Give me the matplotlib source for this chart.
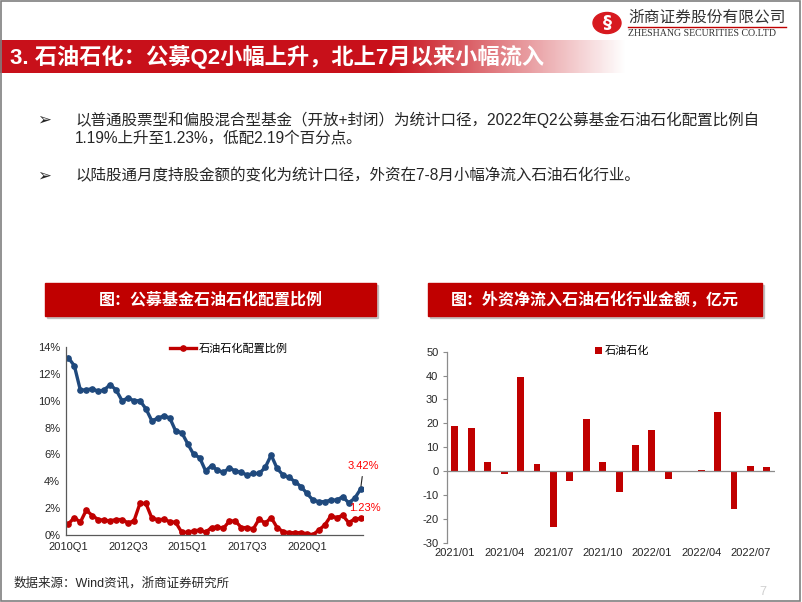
import matplotlib
matplotlib.use("Agg")
import matplotlib.pyplot as plt
import matplotlib.colors as mcolors
from matplotlib.patches import Rectangle, Circle
import numpy as np

plt.rcParams['font.family'] = ['Liberation Sans', 'Noto Sans CJK SC', 'DejaVu Sans']
plt.rcParams['axes.unicode_minus'] = False

W, H = 802, 602

# left chart: fund allocation to petrochem (red) vs benchmark (blue), % , 2010Q1..2022Q2
quarters = [f"{y}Q{q}" for y in range(2010, 2023) for q in range(1, 5)][:50]
left_ticks = ['2010Q1', '2012Q3', '2015Q1', '2017Q3', '2020Q1']
alloc = [0.82, 1.3, 0.95, 1.85, 1.45, 1.15, 1.1, 1.05, 1.15, 1.15,
         0.9, 1.05, 2.35, 2.35, 1.25, 1.15, 1.16, 1.0, 0.94, 0.2,
         0.2, 0.3, 0.37, 0.2, 0.55, 0.6, 0.5, 1.04, 1.04, 0.55,
         0.55, 0.45, 1.2, 0.87, 1.3, 0.55, 0.25, 0.17, 0.17, 0.17,
         0.1, 0.02, 0.37, 0.75, 1.41, 1.3, 1.46, 0.92, 1.19, 1.23]
bench = [13.2, 12.6, 10.8, 10.8, 10.9, 10.7, 10.8, 11.2, 10.8, 10.0,
         10.2, 10.0, 10.0, 9.4, 8.5, 8.7, 8.87, 8.72, 7.73, 7.63,
         6.8, 6.0, 5.77, 4.78, 5.15, 4.83, 4.66, 5.0, 4.76, 4.66,
         4.46, 4.58, 4.58, 5.03, 5.95, 4.96, 4.46, 4.29, 3.97, 3.6,
         3.1, 2.6, 2.48, 2.48, 2.6, 2.6, 2.85, 2.4, 2.73, 3.42]

# right chart: northbound net inflow, 100m yuan
months = ['2021/01', '2021/02', '2021/03', '2021/04', '2021/05', '2021/06', '2021/07',
          '2021/08', '2021/09', '2021/10', '2021/11', '2021/12', '2022/01', '2022/02',
          '2022/03', '2022/04', '2022/05', '2022/06', '2022/07', '2022/08']
flows = [19.0, 18.0, 3.8, -1.3, 39.4, 2.9, -23.3, -4.2, 21.8, 4.0,
         -8.7, 10.9, 17.0, -3.4, 0.1, 0.6, 24.7, -15.9, 2.1, 1.7]

RED = '#C00000'
BLUE = '#1F497D'
TXT = '#262626'


def fx(px):
    return px / W


def fy(py):
    return 1 - py / H


fig = plt.figure(figsize=(W / 100, H / 100), dpi=100)

# slide frame
fig.add_artist(Rectangle((0.001, 0.002), 0.997, 0.996, transform=fig.transFigure,
                         fill=False, ec='#7f7f7f', lw=1.2))

# title bar with fade
tb = fig.add_axes([0, fy(73), 625 / W, 33 / H])
n = 625
grad = np.zeros((1, n, 4))
grad[..., :3] = mcolors.to_rgb('#C8101A')
grad[0, :, 3] = np.clip((n - np.arange(n)) / (n - 390), 0, 1)
tb.imshow(grad, aspect='auto', extent=[0, 1, 0, 1])
tb.axis('off')
fig.text(fx(10), fy(57), '3. 石油石化：公募Q2小幅上升，北上7月以来小幅流入',
         color='white', fontsize=16, fontweight='bold', va='center')

# logo
fig.add_artist(Circle((fx(607), fy(23)), 14 / W, transform=fig.transFigure, color='#D7191F'))
fig.text(fx(607), fy(23), '§', color='white', fontsize=13, fontweight='bold',
         ha='center', va='center', family=['DejaVu Sans'])
fig.text(fx(628), fy(17), '浙商证券股份有限公司', color='#333333', fontsize=11.3,
         va='center', family=['Noto Sans CJK SC'])
fig.add_artist(plt.Line2D([fx(628), fx(786)], [fy(27), fy(27)], color='#C00000', lw=1))
fig.text(fx(628), fy(33.5), 'ZHESHANG SECURITIES CO.LTD', color='#333333', fontsize=7.1,
         va='center', family=['Liberation Serif'])

# bullets
for py in (120, 176):
    fig.text(fx(37), fy(py), '➢', fontsize=12, va='center', color=TXT, family=['DejaVu Sans'])
fig.text(fx(75), fy(120), '以普通股票型和偏股混合型基金（开放+封闭）为统计口径，2022年Q2公募基金石油石化配置比例自',
         fontsize=11.2, va='center', color=TXT)
fig.text(fx(75), fy(138), '1.19%上升至1.23%，低配2.19个百分点。', fontsize=11.2, va='center', color=TXT)
fig.text(fx(75), fy(176), '以陆股通月度持股金额的变化为统计口径，外资在7-8月小幅净流入石油石化行业。',
         fontsize=11.2, va='center', color=TXT)

# chart banners
for x0, x1, label in ((45, 376, '图：公募基金石油石化配置比例'),
                      (428, 762, '图：外资净流入石油石化行业金额，亿元')):
    fig.add_artist(Rectangle((fx(x0 + 2), fy(318)), (x1 - x0) / W, 33 / H,
                             transform=fig.transFigure, color='#9a9a9a', alpha=0.5))
    fig.add_artist(Rectangle((fx(x0), fy(316)), (x1 - x0) / W, 33 / H,
                             transform=fig.transFigure, color=RED))
    fig.text(fx((x0 + x1) / 2), fy(299.5), label, color='white', fontsize=11.5,
             fontweight='bold', ha='center', va='center')

# left chart
ax1 = fig.add_axes([fx(65.7), fy(535), (363 - 65.7) / W, (535 - 347) / H])
x = np.arange(len(quarters))
ax1.plot(x, np.array(bench) / 100, color=BLUE, lw=2.4, marker='o', ms=3.8, label='_nolegend_')
red_line, = ax1.plot(x, np.array(alloc) / 100, color=RED, lw=2.4, marker='o', ms=3.8,
                     label='石油石化配置比例')
ax1.set_xlim(-0.45, 49.4)
ax1.set_ylim(0, 0.14)
ax1.set_yticks(np.arange(0, 0.141, 0.02))
ax1.set_yticklabels([f'{int(v)}%' for v in np.arange(0, 15, 2)])
ax1.set_xticks([quarters.index(q) for q in left_ticks])
ax1.set_xticklabels(left_ticks)
ax1.tick_params(length=0, labelsize=8, colors=TXT, pad=4)
ax1.tick_params(axis='x', pad=5)
for s in ('top', 'right'):
    ax1.spines[s].set_visible(False)
for s in ('left', 'bottom'):
    ax1.spines[s].set_color('#595959')
    ax1.spines[s].set_linewidth(0.9)
ax1.legend(handles=[red_line], loc='center left', bbox_to_anchor=(fx(170), fy(349)),
           bbox_transform=fig.transFigure, frameon=False, fontsize=8,
           handlelength=2.3, handletextpad=0.3, borderpad=0, borderaxespad=0)
ax1.annotate(f'{bench[-1]:.2f}%', xy=(49, bench[-1] / 100), xytext=(49.5, 0.0514),
             color='#FF0000', fontsize=8, ha='center', va='center', annotation_clip=False,
             arrowprops=dict(arrowstyle='-', color='#262626', lw=0.8, shrinkA=2, shrinkB=2))
ax1.text(49.8, 0.020, f'{alloc[-1]:.2f}%', color='#FF0000', fontsize=8,
         ha='center', va='center', clip_on=False)

# right chart
ax2 = fig.add_axes([fx(446.7), fy(542.7), (775 - 446.7) / W, (542.7 - 351.7) / H])
xb = np.arange(len(months))
bars = ax2.bar(xb, flows, width=0.42, color=RED)
ax2.axhline(0, color='#8c8c8c', lw=0.9)
ax2.set_xlim(-0.5, len(months) - 0.5)
ax2.set_ylim(-30, 50)
ax2.set_yticks(range(-30, 51, 10))
ax2.set_xticks(xb[::3])
ax2.set_xticklabels(months[::3])
ax2.tick_params(axis='x', length=0, labelsize=8, colors=TXT, pad=4)
ax2.tick_params(axis='y', length=3, width=0.8, color='#8c8c8c', labelsize=8,
                labelcolor=TXT, pad=3)
for s in ('top', 'right', 'bottom'):
    ax2.spines[s].set_visible(False)
ax2.spines['left'].set_color('#8c8c8c')
ax2.spines['left'].set_linewidth(0.9)
ax2.legend([bars], ['石油石化'], loc='center left', bbox_to_anchor=(fx(595), fy(351)),
           bbox_transform=fig.transFigure, frameon=False, fontsize=8,
           handlelength=0.6, handleheight=0.6, handletextpad=0.3, borderpad=0, borderaxespad=0)

# footer
fig.text(fx(14), fy(583), '数据来源：Wind资讯，浙商证券研究所', fontsize=9, va='center', color=TXT)
fig.text(fx(763), fy(592), '7', fontsize=9, color='#d0d0d0', ha='center', va='center')

fig.savefig('out.png', dpi=100)
